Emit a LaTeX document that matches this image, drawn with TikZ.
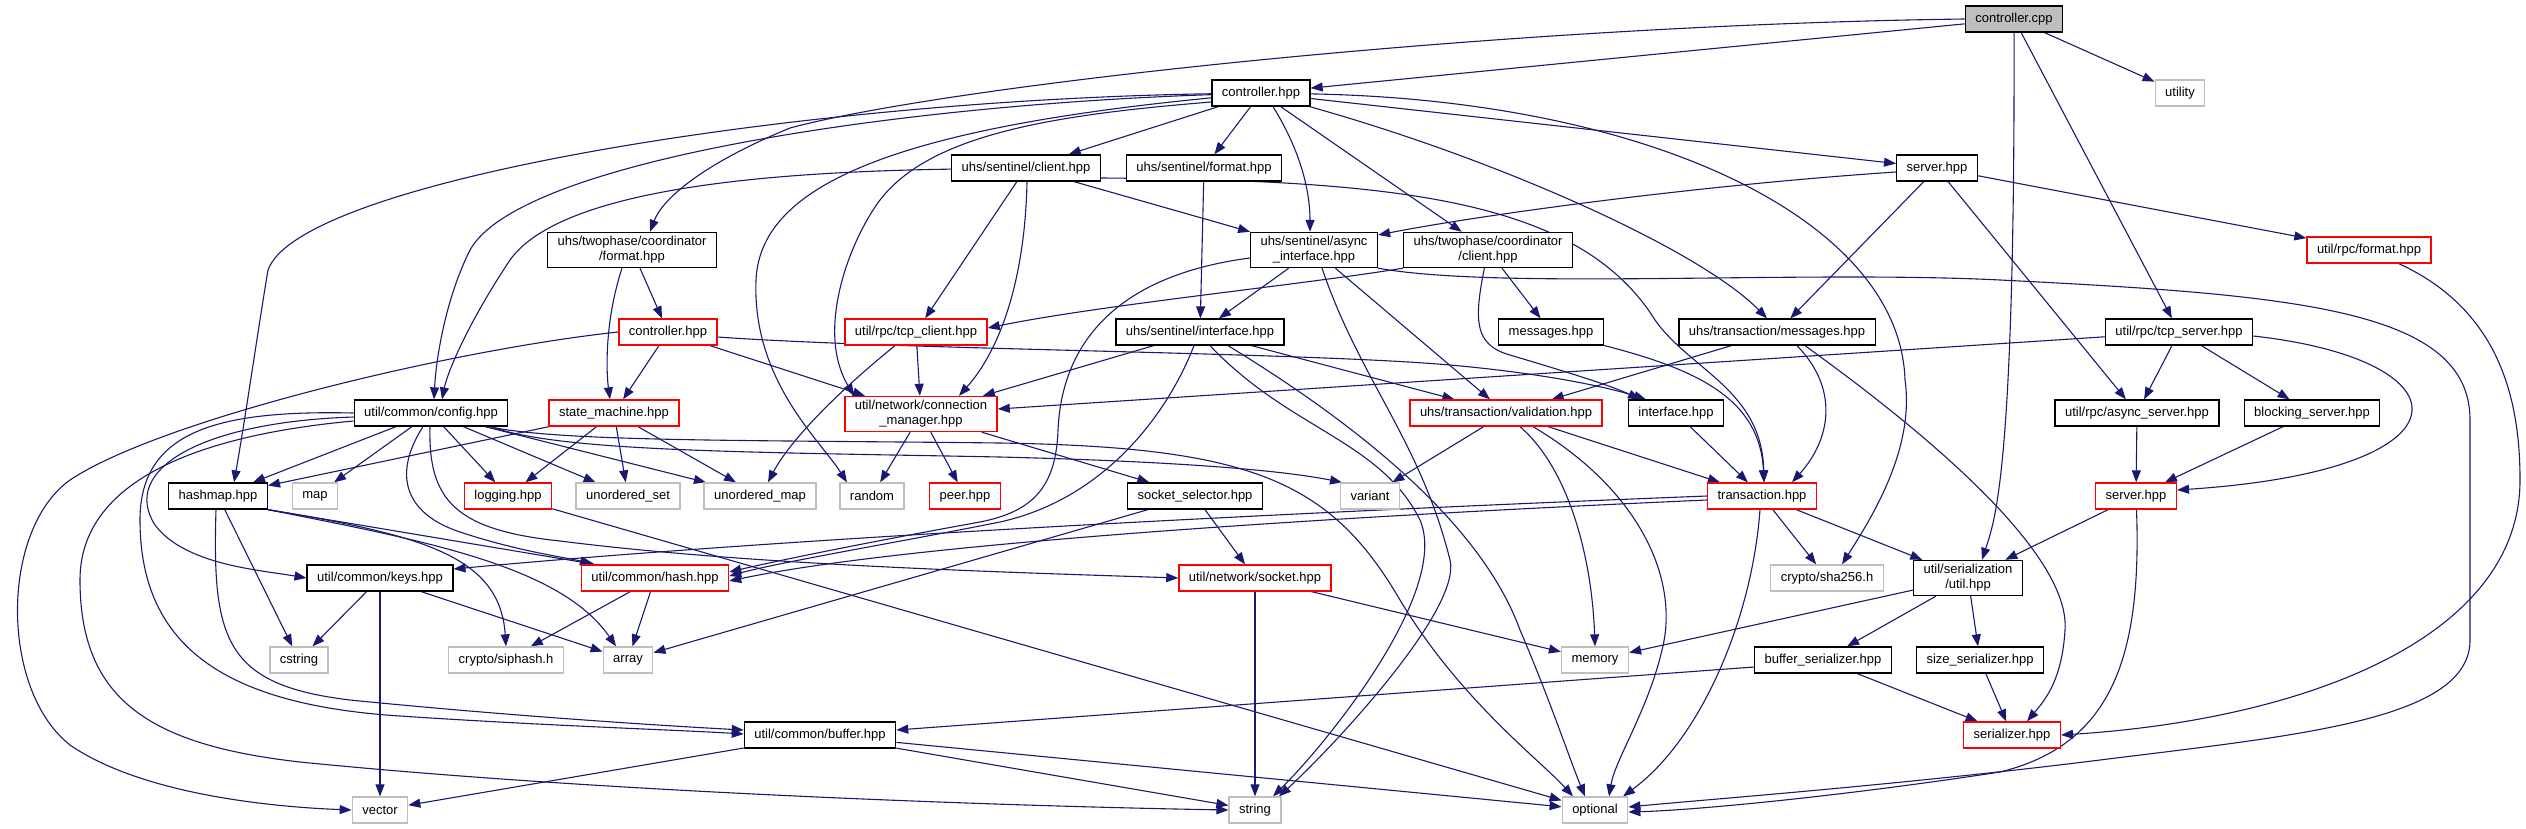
\documentclass[tikz,border=0pt]{standalone}
\usepackage{fontspec}
\setmainfont{Liberation Sans}
\usetikzlibrary{arrows.meta}
\definecolor{edgeblue}{HTML}{191970}
\definecolor{extgray}{HTML}{BFBFBF}
\pgfdeclarelayer{bg}
\pgfsetlayers{bg,main}
\begin{document}
\begin{tikzpicture}[x=1pt,y=-1pt, every node/.style={font=\fontsize{13}{15}\selectfont}]
  \tikzstyle{box}=[draw=black,line width=1.3pt,fill=white,inner xsep=10pt,inner ysep=4pt,minimum height=26pt,align=center]
  \tikzstyle{trunc}=[box,draw=red]
  \tikzstyle{ext}=[box,draw=extgray]
  \tikzstyle{root}=[box,fill=extgray]
  \tikzstyle{dep}=[draw=edgeblue,line width=1.1pt,-{Triangle[length=12pt,width=9pt]}]
  \useasboundingbox (0,0) rectangle (2526,828);
  \node[root] (cpp) at (2014,19) {controller.cpp};
  \node[box] (chpp) at (1261,93) {controller.hpp};
  \node[ext] (utility) at (2180,93) {utility};
  \node[box] (sclient) at (1026,168) {uhs/sentinel/client.hpp};
  \node[box] (sformat) at (1204,168) {uhs/sentinel/format.hpp};
  \node[box] (srv) at (1937,168) {server.hpp};
  \node[box] (cfmt) at (632,250) {uhs/twophase/coordinator\\/format.hpp};
  \node[box] (async) at (1314,250) {uhs/sentinel/async\\\_interface.hpp};
  \node[box] (cclient) at (1488,250) {uhs/twophase/coordinator\\/client.hpp};
  \node[trunc] (rpcfmt) at (2369,250) {util/rpc/format.hpp};
  \node[trunc] (ctrl) at (668,332) {controller.hpp};
  \node[trunc] (tcpc) at (916,332) {util/rpc/tcp\_client.hpp};
  \node[box] (sif) at (1200,332) {uhs/sentinel/interface.hpp};
  \node[box] (msgs) at (1551,332) {messages.hpp};
  \node[box] (tmsgs) at (1777,332) {uhs/transaction/messages.hpp};
  \node[box] (tcps) at (2179,332) {util/rpc/tcp\_server.hpp};
  \node[box] (config) at (431,413) {util/common/config.hpp};
  \node[trunc] (sm) at (614,413) {state\_machine.hpp};
  \node[trunc] (connmgr) at (921,414) {util/network/connection\\\_manager.hpp};
  \node[trunc] (valid) at (1506,413) {uhs/transaction/validation.hpp};
  \node[box] (iface) at (1676,413) {interface.hpp};
  \node[box] (asrv) at (2137,413) {util/rpc/async\_server.hpp};
  \node[box] (bsrv) at (2312,413) {blocking\_server.hpp};
  \node[box] (hashmap) at (218,496) {hashmap.hpp};
  \node[ext] (map) at (315,496) {map};
  \node[trunc] (logging) at (508,496) {logging.hpp};
  \node[ext] (uset) at (628,496) {unordered\_set};
  \node[ext] (umap) at (760,496) {unordered\_map};
  \node[ext] (random) at (872,496) {random};
  \node[trunc] (peer) at (965,496) {peer.hpp};
  \node[box] (ssel) at (1195,496) {socket\_selector.hpp};
  \node[ext] (variant) at (1370,496) {variant};
  \node[trunc] (tx) at (1762,496) {transaction.hpp};
  \node[trunc] (rsrv) at (2136,496) {server.hpp};
  \node[box] (keys) at (380,578) {util/common/keys.hpp};
  \node[trunc] (hash) at (655,578) {util/common/hash.hpp};
  \node[trunc] (socket) at (1255,578) {util/network/socket.hpp};
  \node[ext] (sha) at (1827,578) {crypto/sha256.h};
  \node[box] (sutil) at (1968,578) {util/serialization\\/util.hpp};
  \node[ext] (cstring) at (299,660) {cstring};
  \node[ext] (siphash) at (506,660) {crypto/siphash.h};
  \node[ext] (array) at (628,660) {array};
  \node[ext] (memory) at (1595,660) {memory};
  \node[box] (bser) at (1823,660) {buffer\_serializer.hpp};
  \node[box] (sser) at (1980,660) {size\_serializer.hpp};
  \node[box] (buffer) at (820,735) {util/common/buffer.hpp};
  \node[trunc] (serializer) at (2012,735) {serializer.hpp};
  \node[ext] (vector) at (380,810) {vector};
  \node[ext] (string) at (1255,810) {string};
  \node[ext] (optional) at (1595,810) {optional};
  \begin{pgfonlayer}{bg}
  \draw[dep] (cpp) -- (chpp);
  \draw[dep] (cpp.west) .. controls (1500,25) and (950,85) .. (790,128) .. controls (700,165) and (662,200) .. ([xshift=18pt]cfmt.north);
  \draw[dep] (cpp) -- (utility);
  \draw[dep] (cpp) -- (tcps);
  \draw[dep] (cpp) .. controls (2015,470) and (1995,520) .. ([xshift=14pt]sutil.north);
  \draw[dep] (chpp) .. controls (900,105) and (520,160) .. (470,250) .. controls (445,300) and (436,360) .. ([xshift=3pt]config.north);
  \draw[dep] (chpp) .. controls (800,100) and (300,180) .. (268,270) .. controls (258,330) and (245,420) .. ([xshift=16pt]hashmap.north);
  \draw[dep] ([yshift=-9pt]chpp.west) .. controls (1050,115) and (930,135) .. (880,200) .. controls (850,240) and (815,330) .. ([xshift=-67pt]connmgr.north);
  \draw[dep] (chpp) .. controls (880,130) and (760,190) .. (756,280) .. controls (752,380) and (820,440) .. ([xshift=-25pt]random.north);
  \draw[dep] (chpp) -- (sclient);
  \draw[dep] (chpp) -- (sformat);
  \draw[dep] ([xshift=12pt]chpp.south) .. controls (1300,150) and (1310,190) .. ([xshift=-4pt]async.north);
  \draw[dep] (chpp) -- (cclient);
  \draw[dep] (chpp) .. controls (1500,160) and (1700,250) .. ([xshift=-10pt]tmsgs.north);
  \draw[dep] (chpp) -- (srv);
  \draw[dep] (chpp) .. controls (1650,100) and (1900,220) .. (1905,380) .. controls (1915,450) and (1870,520) .. ([xshift=15pt]sha.north);
  \draw[dep] (sclient) .. controls (760,172) and (560,190) .. (510,260) .. controls (470,320) and (448,370) .. ([xshift=11pt]config.north);
  \draw[dep] (sclient) -- (async);
  \draw[dep] (sclient) -- (tcpc);
  \draw[dep] ([xshift=1pt]sclient.south) .. controls (1025,280) and (1000,350) .. ([xshift=38pt]connmgr.north);
  \draw[dep] ([yshift=-10pt]sclient.east) .. controls (1400,180) and (1580,200) .. (1655,320) .. controls (1690,370) and (1762,390) .. ([xshift=2pt]tx.north);
  \draw[dep] (sformat) -- (sif);
  \draw[dep] ([yshift=-4pt]srv.west) .. controls (1700,185) and (1480,215) .. ([yshift=15pt]async.east);
  \draw[dep] (srv) -- (tmsgs);
  \draw[dep] (srv) -- (asrv);
  \draw[dep] (srv) -- (rpcfmt);
  \draw[dep] (cfmt) -- (ctrl);
  \draw[dep] ([xshift=-10pt]cfmt.south) .. controls (605,320) and (606,370) .. ([xshift=-4pt]sm.north);
  \draw[dep] (async) -- (sif);
  \draw[dep] ([yshift=-8pt]async.west) .. controls (1120,275) and (1062,340) .. (1058,430) .. controls (1056,490) and (1030,512) .. (980,522) .. controls (880,540) and (780,560) .. ([yshift=6pt]hash.east);
  \draw[dep] (async) -- (valid);
  \draw[dep] ([xshift=8pt]async.south) .. controls (1360,380) and (1420,440) .. (1450,560) .. controls (1462,610) and (1330,750) .. ([xshift=24pt]string.north);
  \draw[dep] (async.south east) .. controls (1500,290) and (1800,270) .. (2000,280) .. controls (2300,295) and (2470,310) .. (2470,420) -- (2470,640) .. controls (2470,720) and (2300,735) .. (2100,760) .. controls (1900,785) and (1700,800) .. ([yshift=3pt]optional.east);
  \draw[dep] (cclient.south west) .. controls (1300,285) and (1100,305) .. ([yshift=4pt]tcpc.east);
  \draw[dep] (cclient) -- (msgs);
  \draw[dep] (cclient) .. controls (1474,320) and (1474,345) .. (1510,355) .. controls (1560,370) and (1610,385) .. ([xshift=-36pt]iface.north);
  \draw[dep] (rpcfmt) .. controls (2500,310) and (2520,400) .. (2520,480) .. controls (2520,640) and (2300,720) .. (serializer.east);
  \draw[dep] (ctrl) -- (sm);
  \draw[dep] (ctrl) -- (connmgr);
  \draw[dep] ([yshift=-5pt]ctrl.east) .. controls (900,350) and (1300,352) .. (1450,365) .. controls (1550,374) and (1610,388) .. ([xshift=-30pt]iface.north);
  \draw[dep] (ctrl.west) .. controls (450,350) and (160,420) .. (70,480) .. controls (0,530) and (0,690) .. (70,745) .. controls (150,800) and (300,808) .. (vector.west);
  \draw[dep] (tcpc) -- (connmgr);
  \draw[dep] ([xshift=-21pt]tcpc.south) .. controls (840,390) and (790,440) .. ([xshift=8pt]umap.north);
  \draw[dep] (sif) -- (connmgr);
  \draw[dep] (sif) -- (valid);
  \draw[dep] ([xshift=-6pt]sif.south) .. controls (1165,420) and (1100,500) .. (1000,522) .. controls (900,542) and (780,562) .. ([yshift=2pt]hash.east);
  \draw[dep] ([xshift=10pt]sif.south) .. controls (1290,430) and (1380,440) .. (1420,520) .. controls (1450,590) and (1330,740) .. ([xshift=18pt]string.north);
  \draw[dep] ([xshift=28pt]sif.south) .. controls (1350,420) and (1480,520) .. (1520,630) .. controls (1550,700) and (1570,760) .. ([xshift=-10pt]optional.north);
  \draw[dep] (msgs) .. controls (1700,370) and (1760,400) .. ([xshift=2pt]tx.north);
  \draw[dep] (tmsgs) -- (valid);
  \draw[dep] ([xshift=20pt]tmsgs.south) .. controls (1840,390) and (1830,440) .. ([xshift=30pt]tx.north);
  \draw[dep] ([xshift=28pt]tmsgs.south) .. controls (1950,450) and (2070,560) .. (2065,630) .. controls (2062,680) and (2045,700) .. ([xshift=15pt]serializer.north);
  \draw[dep] (tcps) -- (connmgr);
  \draw[dep] (tcps) -- (asrv);
  \draw[dep] (tcps) -- (bsrv);
  \draw[dep] ([yshift=-4pt]tcps.east) .. controls (2470,360) and (2480,470) .. ([yshift=6pt]rsrv.east);
  \draw[dep] (asrv) -- (rsrv);
  \draw[dep] (bsrv) -- (rsrv);
  \draw[dep] (config) -- (hashmap);
  \draw[dep] (config) -- (map);
  \draw[dep] (config) -- (logging);
  \draw[dep] (config) -- (uset);
  \draw[dep] (config) -- (umap);
  \draw[dep] ([yshift=-4pt]config.west) .. controls (200,422) and (120,470) .. (155,525) .. controls (185,565) and (260,570) .. (keys.west);
  \draw[dep] (config.west) .. controls (220,410) and (140,430) .. (140,520) .. controls (140,650) and (230,705) .. (400,716) .. controls (550,726) and (680,730) .. ([yshift=1pt]buffer.west);
  \draw[dep] ([yshift=-8pt]config.west) .. controls (200,435) and (80,480) .. (80,580) .. controls (80,700) and (150,745) .. (300,762) .. controls (600,792) and (1000,806) .. (string.west);
  \draw[dep] ([xshift=-8pt]config.south) .. controls (395,470) and (400,512) .. (460,532) .. controls (520,552) and (570,558) .. ([xshift=-63pt]hash.north);
  \draw[dep] ([xshift=-1pt]config.south) .. controls (428,500) and (455,530) .. (560,541) .. controls (750,565) and (1000,572) .. (socket.west);
  \draw[dep] ([xshift=58pt]config.south) .. controls (560,442) and (750,440) .. (1000,443) .. controls (1250,447) and (1330,480) .. (1400,600) .. controls (1460,700) and (1540,760) .. ([xshift=-22pt]optional.north);
  \draw[dep] ([xshift=60pt]config.south) .. controls (560,452) and (750,452) .. (1000,457) .. controls (1200,462) and (1290,472) .. ([xshift=-28pt]variant.north);
  \draw[dep] (sm) -- (hashmap);
  \draw[dep] (sm) -- (logging);
  \draw[dep] (sm) -- (uset);
  \draw[dep] (sm) -- (umap);
  \draw[dep] (connmgr) -- (random);
  \draw[dep] (connmgr) -- (peer);
  \draw[dep] (connmgr) -- (ssel);
  \draw[dep] (hashmap.south east) -- ([xshift=-60pt]hash.north);
  \draw[dep] (hashmap.south east) .. controls (420,535) and (500,555) .. (siphash.north);
  \draw[dep] (hashmap.south east) .. controls (420,540) and (560,565) .. ([xshift=-12pt]array.north);
  \draw[dep] (hashmap) -- (cstring);
  \draw[dep] ([xshift=-2pt]hashmap.south) .. controls (212,640) and (225,685) .. (350,700) .. controls (500,715) and (650,725) .. ([yshift=5pt]buffer.west);
  \draw[dep] (keys) -- (cstring);
  \draw[dep] (keys) -- (vector);
  \draw[dep] (keys) -- (array);
  \draw[dep] (hash) -- (siphash);
  \draw[dep] (hash) -- (array);
  \draw[dep] (logging) -- (optional);
  \draw[dep] (ssel) -- (socket);
  \draw[dep] (ssel) -- (array);
  \draw[dep] (valid) -- (variant);
  \draw[dep] ([xshift=14pt]valid.south) .. controls (1570,470) and (1592,560) .. (memory.north);
  \draw[dep] ([xshift=27pt]valid.south) .. controls (1640,490) and (1680,580) .. (1662,650) .. controls (1648,710) and (1615,760) .. ([xshift=14pt]optional.north);
  \draw[dep] (valid) -- (tx);
  \draw[dep] (iface) -- (tx);
  \draw[dep] (tx) -- (sha);
  \draw[dep] (tx) -- (sutil);
  \draw[dep] ([xshift=-2pt]tx.south) .. controls (1752,620) and (1700,740) .. ([xshift=28pt]optional.north);
  \draw[dep] (tx.west) .. controls (1300,512) and (800,537) .. ([yshift=9pt]keys.east);
  \draw[dep] ([yshift=-4pt]tx.west) .. controls (1300,518) and (900,545) .. ([yshift=-3pt]hash.east);
  \draw[dep] (rsrv) -- (sutil);
  \draw[dep] (rsrv) .. controls (2142,660) and (2110,745) .. (2000,772) .. controls (1850,795) and (1700,810) .. ([yshift=-2pt]optional.east);
  \draw[dep] (sutil) -- (memory);
  \draw[dep] (sutil) -- (bser);
  \draw[dep] (sutil) -- (sser);
  \draw[dep] (socket) -- (string);
  \draw[dep] (socket) -- (memory);
  \draw[dep] ([yshift=-7pt]bser.west) -- ([yshift=5pt]buffer.east);
  \draw[dep] (bser) -- (serializer);
  \draw[dep] (sser) -- (serializer);
  \draw[dep] (buffer) -- (vector);
  \draw[dep] (buffer) -- (string);
  \draw[dep] (buffer) -- (optional);
  \end{pgfonlayer}
\end{tikzpicture}
\end{document}
